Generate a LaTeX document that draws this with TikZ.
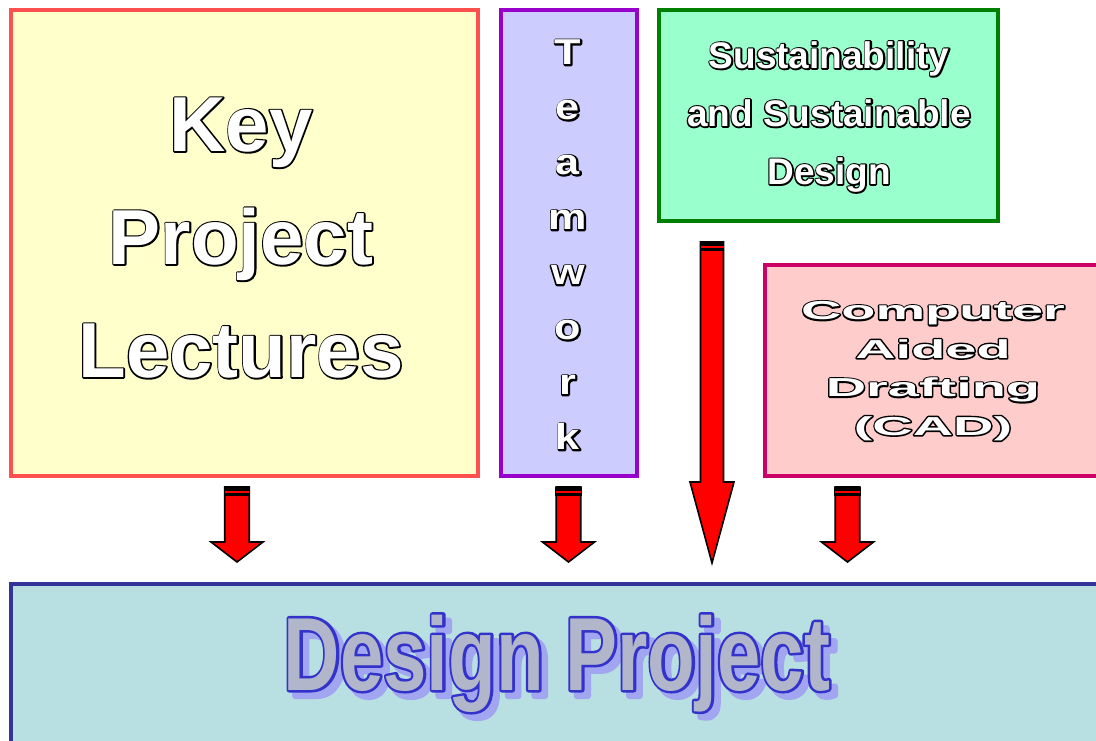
\documentclass[tikz,border=0pt]{standalone}
\usepackage{fontspec}
\setmainfont{Liberation Sans}
\newfontfamily\headfont{Liberation Sans Bold}
\newfontfamily\widefont{Liberation Sans Bold}[FakeStretch=2.15]
\newfontfamily\teamfont{Liberation Sans Bold}[FakeStretch=1.2]
\newfontfamily\narrowfont{Liberation Sans Bold}[FakeStretch=0.75]

\definecolor{keyfill}{HTML}{FFFFCC}
\definecolor{keyedge}{HTML}{FF5050}
\definecolor{teamfill}{HTML}{CCCCFF}
\definecolor{teamedge}{HTML}{9900CC}
\definecolor{susfill}{HTML}{99FFCC}
\definecolor{susedge}{HTML}{008000}
\definecolor{cadfill}{HTML}{FFCCCC}
\definecolor{cadedge}{HTML}{CC0066}
\definecolor{projfill}{HTML}{B8DFE1}
\definecolor{projedge}{HTML}{333399}
\definecolor{titlefill}{HTML}{B2B6CA}
\definecolor{titleedge}{HTML}{3333CC}
\definecolor{titleshadow}{HTML}{A2A6F0}

% lettering with an outline outside the glyphs:
% a stroked copy underneath (colour, line width), the plain text on top
\newcommand\halo[3]{\makebox[0pt][l]{\color{#1}\special{pdf:literal direct 2 Tr #2 w 1 j}#3\special{pdf:literal direct 0 Tr}}#3}
% white letters with a thin black outline
\newcommand\outl[1]{{\color{white}\halo{black}{3}{#1}}}

% block arrow: centre x, top y, head y, tip y, shaft half width, head half width
\newcommand\blockarrow[6]{%
  \draw[arrowbody] ({#1-#5},#2) -- ({#1-#5},#3) -- ({#1-#6},#3) -- (#1,#4)
    -- ({#1+#6},#3) -- ({#1+#5},#3) -- ({#1+#5},#2) -- cycle;
  \fill[black] ({#1-#5-0.8},#2) rectangle ({#1+#5+0.8},{#2+9});
  \draw[red,line width=1.3pt] ({#1-#5},{#2+5}) -- ({#1+#5},{#2+5});
}

\tikzset{
  panel/.style={rectangle,line width=4pt,inner sep=0pt,anchor=center},
  arrowbody/.style={fill=red,draw=black,line width=1.6pt,line join=miter},
  label/.style={align=center,inner sep=0pt,anchor=center}
}

\begin{document}
\begin{tikzpicture}[x=1pt,y=-1pt]
\useasboundingbox (0,0) rectangle (1096,740);

% panels
\node[panel,draw=keyedge,fill=keyfill,minimum width=467pt,minimum height=466pt] (lectures) at (244.5,243) {};
\node[panel,draw=teamedge,fill=teamfill,minimum width=136.5pt,minimum height=466pt] (teamwork) at (568.75,243) {};
\node[panel,draw=susedge,fill=susfill,minimum width=339pt,minimum height=211pt] (sustain) at (828.5,115.5) {};
\node[panel,draw=cadedge,fill=cadfill,minimum width=336pt,minimum height=211pt] (cad) at (933,370.5) {};
\node[panel,draw=projedge,fill=projfill,minimum width=1096pt,minimum height=170pt] (project) at (559,669) {};

% panel texts
\node[label,font=\headfont\fontsize{78}{113}\selectfont] (lecturestext) at (241,238)
  {\outl{Key}\\\outl{Project}\\\outl{Lectures}};
\node[label,font=\teamfont\fontsize{36}{55}\selectfont] (teamtext) at (568,245)
  {\outl{T}\\\outl{e}\\\outl{a}\\\outl{m}\\\outl{w}\\\outl{o}\\\outl{r}\\\outl{k}};
\node[label,font=\headfont\fontsize{37}{58}\selectfont] (sustext) at (829,117)
  {\outl{Sustainability}\\\outl{and Sustainable}\\\outl{Design}};
\node[label,font=\widefont\fontsize{26}{38.5}\selectfont] (cadtext) at (933,371)
  {\outl{Computer}\\\outl{Aided}\\\outl{Drafting}\\\outl{(CAD)}};

% project title with a soft offset shadow
\node[label,anchor=base,font=\narrowfont\fontsize{104}{110}\selectfont] (titleshadow) at (563,696)
  {{\color{titleshadow}\halo{titleshadow}{6}{Design Project}}};
\node[label,anchor=base,font=\narrowfont\fontsize{104}{110}\selectfont] (title) at (557,690)
  {{\color{titlefill}\halo{titleedge}{5}{Design Project}}};

% arrows into the project
\blockarrow{237}{487}{542}{562}{12.25}{26}
\blockarrow{568.5}{487}{542}{562}{12.25}{26}
\blockarrow{712}{242}{482}{563}{11.5}{22}
\blockarrow{847.5}{487}{542}{562}{12.25}{26}
\end{tikzpicture}
\end{document}
